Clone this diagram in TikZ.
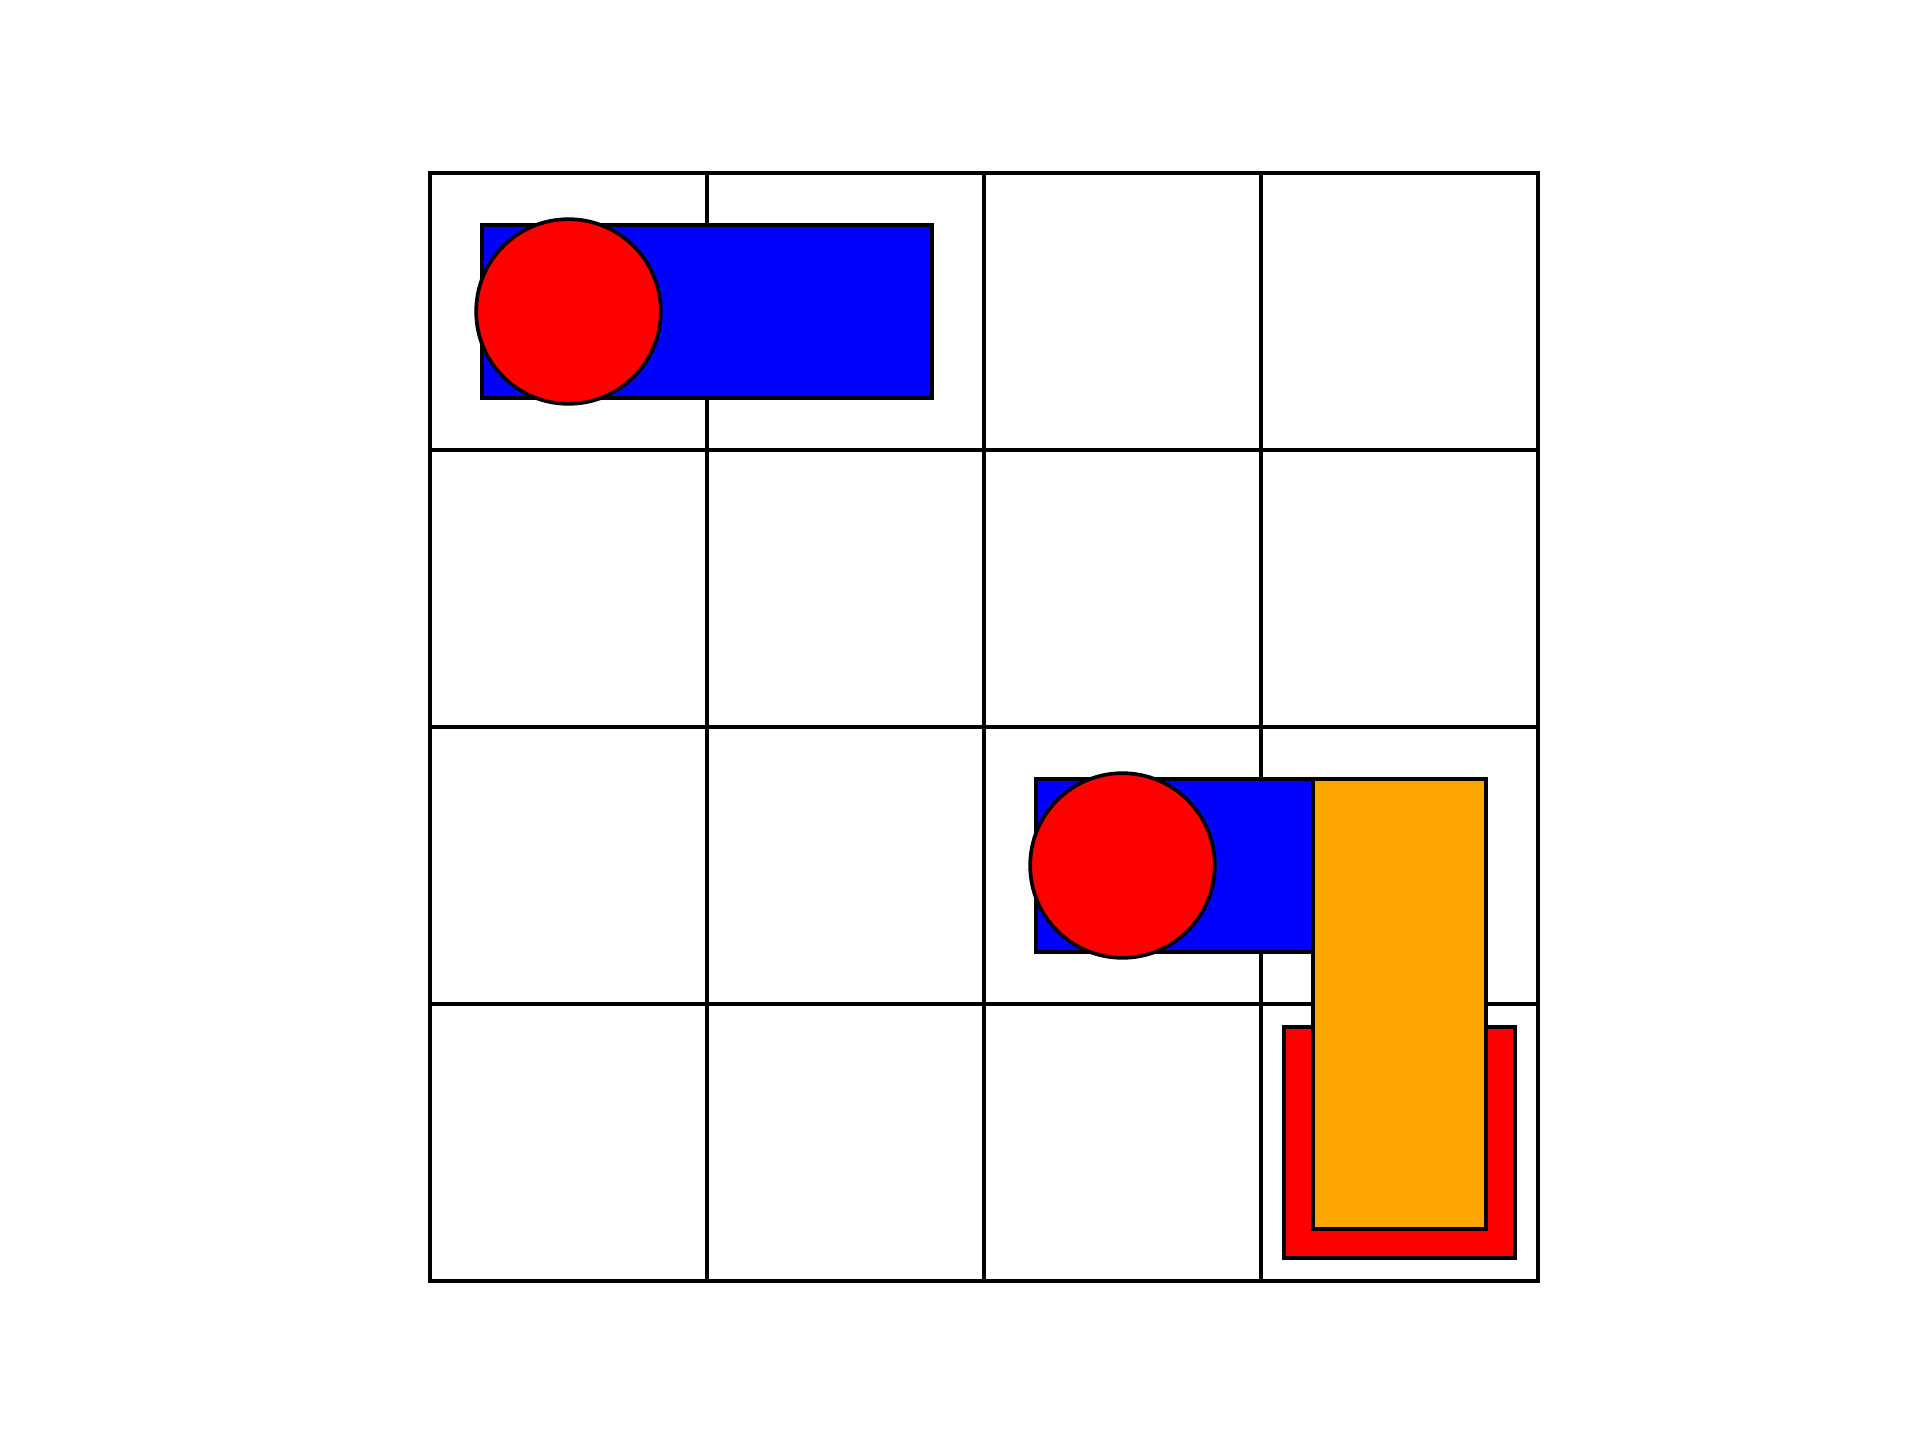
\documentclass[tikz,border=0pt]{standalone}
\usepackage{tikz}
\definecolor{boardBlue}{RGB}{0,0,255}
\definecolor{boardRed}{RGB}{255,0,0}
\definecolor{boardOrange}{RGB}{255,165,0}
\tikzset{gridline/.style={draw=black,line width=1.05pt,line cap=rect},
 piece/.style={draw=black,line width=1.05pt},
 every picture/.style={line join=miter}}

\begin{document}
\begin{tikzpicture}[x=2.77cm,y=-2.77cm]
\useasboundingbox (-1.5523,-0.6245) rectangle (5.3791,4.5740);
\foreach \k in {0,...,4} {
  \draw[gridline] (\k,0) -- (\k,4);
  \draw[gridline] (0,\k) -- (4,\k);
}
\draw[piece,fill=boardBlue] (0.1875,0.1875) rectangle (1.8125,0.8125);
\draw[piece,fill=boardRed] (0.5,0.5) circle[radius=0.3333];
\draw[piece,fill=boardBlue] (2.1875,2.1875) rectangle (3.8125,2.8125);
\draw[piece,fill=boardRed] (2.5,2.5) circle[radius=0.3333];
\draw[piece,fill=boardRed] (3.0833,3.0833) rectangle (3.9167,3.9167);
\draw[piece,fill=boardOrange] (3.1875,2.1875) rectangle (3.8125,3.8125);
\end{tikzpicture}
\end{document}
